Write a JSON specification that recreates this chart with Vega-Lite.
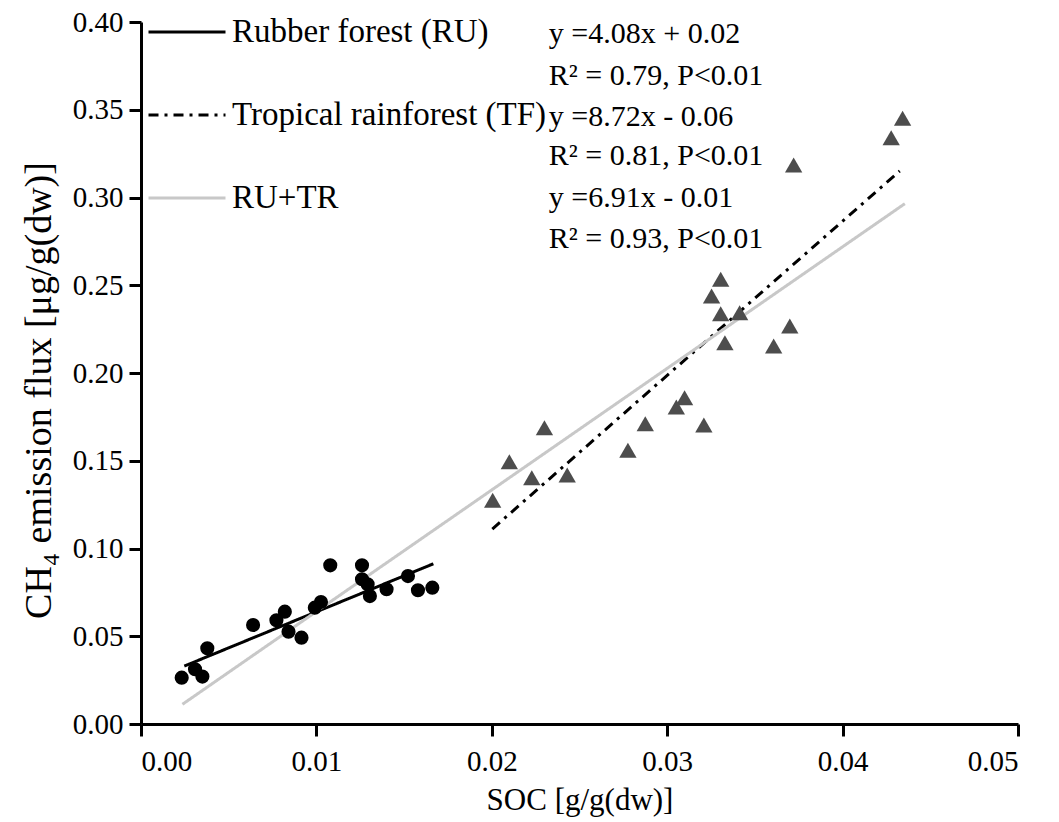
{
  "$schema": "https://vega.github.io/schema/vega-lite/v6.json",
  "width": 877,
  "height": 702,
  "autosize": {"type": "none"},
  "padding": {"left": 141, "top": 22, "right": 41, "bottom": 98},
  "background": "white",
  "config": {
    "view": {"stroke": null},
    "font": "Liberation Serif",
    "axis": {
      "grid": false,
      "domainColor": "black",
      "domainWidth": 3,
      "tickColor": "black",
      "tickWidth": 3,
      "tickSize": 12,
      "labelFont": "Liberation Serif",
      "labelFontSize": 29,
      "labelColor": "black",
      "titleFont": "Liberation Serif",
      "titleFontWeight": "normal",
      "titleColor": "black"
    }
  },
  "datasets": {
    "points": [
      {"soc": 0.00232, "flux": 0.0264, "site": "RU"},
      {"soc": 0.00308, "flux": 0.0312, "site": "RU"},
      {"soc": 0.0035, "flux": 0.027, "site": "RU"},
      {"soc": 0.00378, "flux": 0.0431, "site": "RU"},
      {"soc": 0.00639, "flux": 0.0564, "site": "RU"},
      {"soc": 0.00772, "flux": 0.0591, "site": "RU"},
      {"soc": 0.0082, "flux": 0.064, "site": "RU"},
      {"soc": 0.00841, "flux": 0.0526, "site": "RU"},
      {"soc": 0.00915, "flux": 0.0492, "site": "RU"},
      {"soc": 0.00991, "flux": 0.0663, "site": "RU"},
      {"soc": 0.01026, "flux": 0.0695, "site": "RU"},
      {"soc": 0.01079, "flux": 0.0904, "site": "RU"},
      {"soc": 0.0126, "flux": 0.0904, "site": "RU"},
      {"soc": 0.0126, "flux": 0.0825, "site": "RU"},
      {"soc": 0.01292, "flux": 0.0796, "site": "RU"},
      {"soc": 0.01305, "flux": 0.0729, "site": "RU"},
      {"soc": 0.014, "flux": 0.0768, "site": "RU"},
      {"soc": 0.01522, "flux": 0.0843, "site": "RU"},
      {"soc": 0.01579, "flux": 0.0762, "site": "RU"},
      {"soc": 0.01661, "flux": 0.0777, "site": "RU"},
      {"soc": 0.023, "flux": 0.1688, "site": "TF"},
      {"soc": 0.021, "flux": 0.1494, "site": "TF"},
      {"soc": 0.02228, "flux": 0.1403, "site": "TF"},
      {"soc": 0.0243, "flux": 0.1419, "site": "TF"},
      {"soc": 0.02005, "flux": 0.1275, "site": "TF"},
      {"soc": 0.02776, "flux": 0.156, "site": "TF"},
      {"soc": 0.02875, "flux": 0.1711, "site": "TF"},
      {"soc": 0.03099, "flux": 0.1859, "site": "TF"},
      {"soc": 0.03052, "flux": 0.1806, "site": "TF"},
      {"soc": 0.03209, "flux": 0.1704, "site": "TF"},
      {"soc": 0.04342, "flux": 0.3451, "site": "TF"},
      {"soc": 0.04277, "flux": 0.3341, "site": "TF"},
      {"soc": 0.03721, "flux": 0.3185, "site": "TF"},
      {"soc": 0.03305, "flux": 0.2534, "site": "TF"},
      {"soc": 0.03253, "flux": 0.2439, "site": "TF"},
      {"soc": 0.03305, "flux": 0.2338, "site": "TF"},
      {"soc": 0.03413, "flux": 0.2344, "site": "TF"},
      {"soc": 0.03699, "flux": 0.2268, "site": "TF"},
      {"soc": 0.03329, "flux": 0.2173, "site": "TF"},
      {"soc": 0.03607, "flux": 0.2154, "site": "TF"}
    ],
    "fits": [
      {"soc": 0.00247, "flux": 0.033, "series": "Rubber forest (RU)"},
      {"soc": 0.01667, "flux": 0.0913, "series": "Rubber forest (RU)"},
      {"soc": 0.02003, "flux": 0.1111, "series": "Tropical rainforest (TF)"},
      {"soc": 0.04326, "flux": 0.3151, "series": "Tropical rainforest (TF)"},
      {"soc": 0.00236, "flux": 0.0112, "series": "RU+TR"},
      {"soc": 0.04355, "flux": 0.2965, "series": "RU+TR"}
    ],
    "notes": [
      {"soc": 0.02325, "flux": 0.3932, "label": "y =4.08x + 0.02"},
      {"soc": 0.02325, "flux": 0.3692, "label": "R² = 0.79, P<0.01"},
      {"soc": 0.02325, "flux": 0.3459, "label": "y =8.72x - 0.06"},
      {"soc": 0.02325, "flux": 0.3236, "label": "R² = 0.81, P<0.01"},
      {"soc": 0.02325, "flux": 0.2997, "label": "y =6.91x - 0.01"},
      {"soc": 0.02325, "flux": 0.2764, "label": "R² = 0.93, P<0.01"}
    ]
  },
  "encoding": {
    "x": {
      "field": "soc", "type": "quantitative",
      "scale": {"domain": [0, 0.05], "nice": false, "zero": false},
      "axis": {"values": [0, 0.01, 0.02, 0.03, 0.04, 0.05], "format": ".2f", "title": "SOC [g/g(dw)]", "labelFont": "Liberation Serif", "labelFontSize": 29, "labelPadding": 11, "titleFont": "Liberation Serif", "titleFontSize": 31, "titlePadding": 9}
    },
    "y": {
      "field": "flux", "type": "quantitative",
      "scale": {"domain": [0, 0.4], "nice": false, "zero": false},
      "axis": {"values": [0, 0.05, 0.1, 0.15, 0.2, 0.25, 0.3, 0.35, 0.4], "format": ".2f", "title": "CH₄ emission flux [μg/g(dw)]", "labelFont": "Liberation Serif", "labelFontSize": 29, "labelPadding": 6, "titleFont": "Liberation Serif", "titleFontSize": 38, "titlePadding": 14, "titleY": 368}
    }
  },
  "layer": [
    {
      "data": {"name": "fits"},
      "mark": {"type": "line", "strokeWidth": 3},
      "encoding": {
        "detail": {"field": "series"},
        "color": {
          "field": "series", "type": "nominal",
          "scale": {"domain": ["Rubber forest (RU)", "Tropical rainforest (TF)", "RU+TR"], "range": ["black", "black", "#c8c8c8"]},
          "legend": {
            "title": null, "orient": "none", "legendX": 6, "legendY": -30,
            "symbolType": "stroke", "symbolSize": 5929, "symbolStrokeWidth": 3,
            "labelFont": "Liberation Serif", "labelFontSize": 33, "labelColor": "black", "labelLimit": 600,
            "labelOffset": 5, "rowPadding": 26, "symbolLimit": 0
          }
        },
        "strokeDash": {
          "field": "series", "type": "nominal",
          "scale": {"domain": ["Rubber forest (RU)", "Tropical rainforest (TF)", "RU+TR"], "range": [[1, 0], [10, 6, 3, 6], [1, 0]]},
          "legend": {
            "title": null, "orient": "none", "legendX": 6, "legendY": -30,
            "symbolType": "stroke", "symbolSize": 5929, "symbolStrokeWidth": 3,
            "labelFont": "Liberation Serif", "labelFontSize": 33, "labelColor": "black", "labelLimit": 600,
            "labelOffset": 5, "rowPadding": 26, "symbolLimit": 0
          }
        }
      }
    },
    {
      "data": {"name": "points"},
      "mark": {"type": "point", "filled": true, "opacity": 1},
      "encoding": {
        "shape": {"field": "site", "type": "nominal", "scale": {"domain": ["RU", "TF"], "range": ["circle", "triangle-up"]}, "legend": null},
        "fill": {"field": "site", "type": "nominal", "scale": {"domain": ["RU", "TF"], "range": ["black", "#4d4d4d"]}, "legend": null},
        "size": {"field": "site", "type": "nominal", "scale": {"domain": ["RU", "TF"], "range": [200, 300]}, "legend": null}
      }
    },
    {
      "data": {"name": "notes"},
      "mark": {"type": "text", "align": "left", "baseline": "middle", "font": "Liberation Serif", "fontSize": 30, "color": "black"},
      "encoding": {"text": {"field": "label"}}
    }
  ]
}
